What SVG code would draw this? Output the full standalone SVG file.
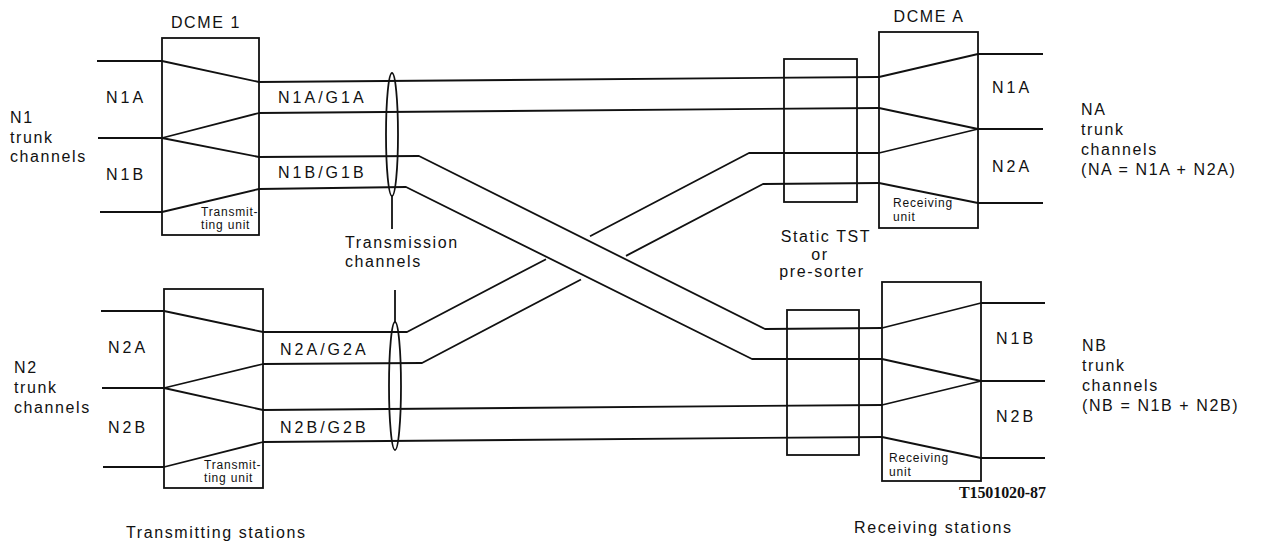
<svg xmlns="http://www.w3.org/2000/svg" width="1262" height="545" viewBox="0 0 1262 545">
<style>
  .ln{fill:none;stroke:#111;stroke-width:1.8;stroke-linejoin:round;stroke-linecap:butt}
  .bx{fill:none;stroke:#111;stroke-width:1.8}
  text{font-family:"Liberation Sans",Arial,sans-serif;fill:#111}
  .t{font-size:16px;letter-spacing:1.6px}
  .lb{font-size:16px;letter-spacing:3px}
  .s{font-size:12px;letter-spacing:0.8px}
  .code{font-family:"Liberation Serif","Times New Roman",serif;font-size:16px;font-weight:bold}
</style>
<rect width="1262" height="545" fill="#fff"/>

<g id="connectors">
  <!-- DCME 1 inputs and internal -->
  <path class="ln" d="M97,61 H162 L259,82"/>
  <path class="ln" d="M98,138 H162 L259,113"/>
  <path class="ln" d="M162,138 L259,157"/>
  <path class="ln" d="M100,212 H162 L259,189"/>
  <!-- DCME 2 inputs and internal -->
  <path class="ln" d="M101,311 H164 L263,332"/>
  <path class="ln" d="M102,388 H164 L263,364"/>
  <path class="ln" d="M164,388 L263,410"/>
  <path class="ln" d="M103,467 H164 L263,442"/>
  <!-- straight transmission channels -->
  <path class="ln" d="M259,82 L879,77"/>
  <path class="ln" d="M259,113 L879,108"/>
  <path class="ln" d="M263,410 L882,405"/>
  <path class="ln" d="M263,442 L882,437"/>
  <!-- crossing band N1B -> B -->
  <path class="ln" d="M259,157 L419,156 L765,329 L882,328"/>
  <path class="ln" d="M259,189 L406,187 L752,359 L882,359"/>
  <!-- crossing band N2A -> A (broken under) -->
  <path class="ln" d="M263,332 L407,332 L546,259.2"/>
  <path class="ln" d="M590,236.2 L749,153 L879,153"/>
  <path class="ln" d="M263,364 L422,363 L581,279.5"/>
  <path class="ln" d="M626,255.9 L763,184 L879,183"/>
  <!-- DCME A internal and outputs -->
  <path class="ln" d="M879,77 L978,54 H1043"/>
  <path class="ln" d="M879,108 L978,129 H1043"/>
  <path class="ln" d="M879,153 L978,129"/>
  <path class="ln" d="M879,183 L978,203 H1043"/>
  <!-- DCME B internal and outputs -->
  <path class="ln" d="M882,328 L981,303 H1045"/>
  <path class="ln" d="M882,359 L981,381 H1045"/>
  <path class="ln" d="M882,405 L981,381"/>
  <path class="ln" d="M882,437 L981,458 H1045"/>
  <!-- transmission channel ellipses -->
  <ellipse class="ln" cx="392" cy="134.5" rx="6" ry="61.5"/>
  <path class="ln" d="M392,196 V229"/>
  <ellipse class="ln" cx="395" cy="386" rx="6" ry="64"/>
  <path class="ln" d="M395,290 V322"/>
</g>

<g id="dcme1">
  <rect class="bx" x="162" y="38" width="97" height="197"/>
  <text class="t" x="206" y="28" text-anchor="middle">DCME 1</text>
  <text class="s" x="201" y="216">Transmit-</text>
  <text class="s" x="201" y="229">ting unit</text>
</g>

<g id="dcme2">
  <rect class="bx" x="164" y="289" width="99" height="199"/>
  <text class="s" x="204" y="469">Transmit-</text>
  <text class="s" x="204" y="482">ting unit</text>
</g>

<g id="tst-a">
  <rect class="bx" x="784" y="59" width="73" height="143"/>
</g>
<g id="tst-b">
  <rect class="bx" x="787" y="310" width="72" height="145"/>
</g>

<g id="dcme-a">
  <rect class="bx" x="879" y="32" width="99" height="196"/>
  <text class="t" x="929" y="22" text-anchor="middle">DCME A</text>
  <text class="s" x="893" y="207">Receiving</text>
  <text class="s" x="893" y="221">unit</text>
</g>

<g id="dcme-b">
  <rect class="bx" x="882" y="282" width="99" height="199"/>
  <text class="s" x="889" y="462">Receiving</text>
  <text class="s" x="889" y="476">unit</text>
</g>

<g id="labels-left">
  <text class="lb" x="106" y="103">N1A</text>
  <text class="lb" x="106" y="180">N1B</text>
  <text class="t" x="10" y="123">N1</text>
  <text class="t" x="10" y="143">trunk</text>
  <text class="t" x="10" y="162">channels</text>
  <text class="lb" x="108" y="353">N2A</text>
  <text class="lb" x="108" y="433">N2B</text>
  <text class="t" x="14" y="373">N2</text>
  <text class="t" x="14" y="393">trunk</text>
  <text class="t" x="14" y="413">channels</text>
  <text class="lb" x="278" y="103">N1A/G1A</text>
  <text class="lb" x="278" y="178">N1B/G1B</text>
  <text class="lb" x="280" y="355">N2A/G2A</text>
  <text class="lb" x="280" y="433">N2B/G2B</text>
  <text class="t" x="345" y="248">Transmission</text>
  <text class="t" x="345" y="267">channels</text>
  <text class="t" x="126" y="538">Transmitting stations</text>
</g>

<g id="labels-right">
  <text class="t" x="826" y="242" text-anchor="middle">Static TST</text>
  <text class="t" x="820" y="260" text-anchor="middle">or</text>
  <text class="t" x="822" y="277" text-anchor="middle">pre-sorter</text>
  <text class="lb" x="992" y="93">N1A</text>
  <text class="lb" x="992" y="172">N2A</text>
  <text class="t" x="1081" y="115">NA</text>
  <text class="t" x="1081" y="135">trunk</text>
  <text class="t" x="1081" y="155">channels</text>
  <text class="t" x="1081" y="175" letter-spacing="2">(NA = N1A + N2A)</text>
  <text class="lb" x="996" y="344">N1B</text>
  <text class="lb" x="996" y="422">N2B</text>
  <text class="t" x="1082" y="351">NB</text>
  <text class="t" x="1082" y="371">trunk</text>
  <text class="t" x="1082" y="391">channels</text>
  <text class="t" x="1082" y="411" letter-spacing="2">(NB = N1B + N2B)</text>
  <text class="code" x="1046" y="498" text-anchor="end" textLength="87">T1501020-87</text>
  <text class="t" x="854" y="533">Receiving stations</text>
</g>
</svg>
